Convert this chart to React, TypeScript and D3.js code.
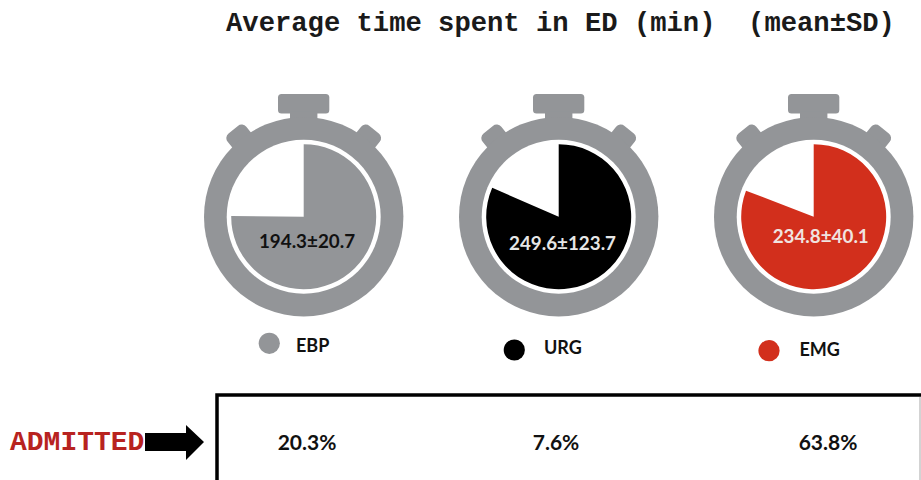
import React from "react";
import * as d3 from "d3";

// Departments and their time in the ED (minutes)
const groups = ["EBP", "URG", "EMG"];
const means = [194.3, 249.6, 234.8];
const sds = [20.7, 123.7, 40.1];
const admitted = ["20.3%", "7.6%", "63.8%"];
const fills = ["#939598", "#000000", "#d22f1c"];
const labelColors = ["#111111", "#e6e6e6", "#f0e4e0"];

// The dial is not linear in minutes: each mean has its own hand position
const dialMinutes = [194.3, 234.8, 249.6];
const dialDegrees = [270.5, 291, 293.5];

const watchX = [303.7, 558.7, 813.7];
const valueDx = [3.3, 3.8, 7];
const valueDy = [31, 33.3, 26.7];
const legendX = [269.3, 514.3, 769];
const legendY = [343.3, 350, 350.7];
const legendTextX = [296, 544, 799.5];
const legendBaseline = [351.7, 354.3, 355.7];
const admittedX = [307, 556, 828];

const title = "Average time spent in ED (min)  (mean±SD)";
const CALIBRI = "Lato, 'Open Sans', sans-serif";
const MONO = "'Liberation Mono', monospace";
const RING = "#939598";

const angle = d3.scaleLinear().domain(dialMinutes).range(dialDegrees);
const pieArc = d3.arc();

function Stopwatch({ index }: { index: number }) {
  const sweep = (angle(means[index]) * Math.PI) / 180;
  const wedge = pieArc({ innerRadius: 0, outerRadius: 72.5, startAngle: 0, endAngle: sweep });
  return (
    <g transform={`translate(${watchX[index]},216.7)`}>
      <rect x={-25.7} y={-122.7} width={51.3} height={19.5} rx={3.5} fill={RING} />
      <rect x={-13.7} y={-105} width={27.4} height={20} fill={RING} />
      {[-39, 39].map((a) => (
        <rect key={a} x={-12} y={-112} width={24} height={26} rx={6} fill={RING} transform={`rotate(${a})`} />
      ))}
      <circle r={99.7} fill={RING} />
      <circle r={77} fill="#ffffff" />
      <path d={wedge ?? ""} fill={fills[index]} />
      <text
        x={valueDx[index]}
        y={valueDy[index]}
        textAnchor="middle"
        fontFamily={CALIBRI}
        fontWeight={700}
        fontSize={18.8}
        fill={labelColors[index]}
      >
        {`${means[index]}±${sds[index]}`}
      </text>
    </g>
  );
}

export default function App() {
  return (
    <svg
      width={921}
      height={480}
      viewBox="0 0 921 480"
      style={{ position: "absolute", left: 0, top: 0, background: "#ffffff" }}
    >
      <text
        x={226}
        y={31}
        fontFamily={MONO}
        fontWeight={700}
        fontSize={27.2}
        fill="#1a1a1a"
        style={{ whiteSpace: "pre" }}
      >
        {title}
      </text>

      {groups.map((g, i) => (
        <Stopwatch key={g} index={i} />
      ))}

      {groups.map((g, i) => (
        <g key={g}>
          <circle cx={legendX[i]} cy={legendY[i]} r={10.6} fill={fills[i]} />
          <text
            x={legendTextX[i]}
            y={legendBaseline[i]}
            fontFamily={CALIBRI}
            fontWeight={700}
            fontSize={18}
            fill="#111111"
          >
            {g}
          </text>
        </g>
      ))}

      <path d="M217,480 V395 H921" fill="none" stroke="#000000" strokeWidth={3.5} />
      <line x1={920} y1={397} x2={920} y2={480} stroke="#c4c4c4" strokeWidth={1.5} />

      <text x={10} y={449.5} fontFamily={MONO} fontWeight={700} fontSize={28} fill="#b8231f">
        ADMITTED
      </text>
      <path d="M145,433 H186 V425 L204,442 L186,460 V451 H145 Z" fill="#000000" />

      {admitted.map((v, i) => (
        <text
          key={groups[i]}
          x={admittedX[i]}
          y={449.5}
          textAnchor="middle"
          fontFamily={CALIBRI}
          fontWeight={700}
          fontSize={21}
          fill="#111111"
        >
          {v}
        </text>
      ))}
    </svg>
  );
}
